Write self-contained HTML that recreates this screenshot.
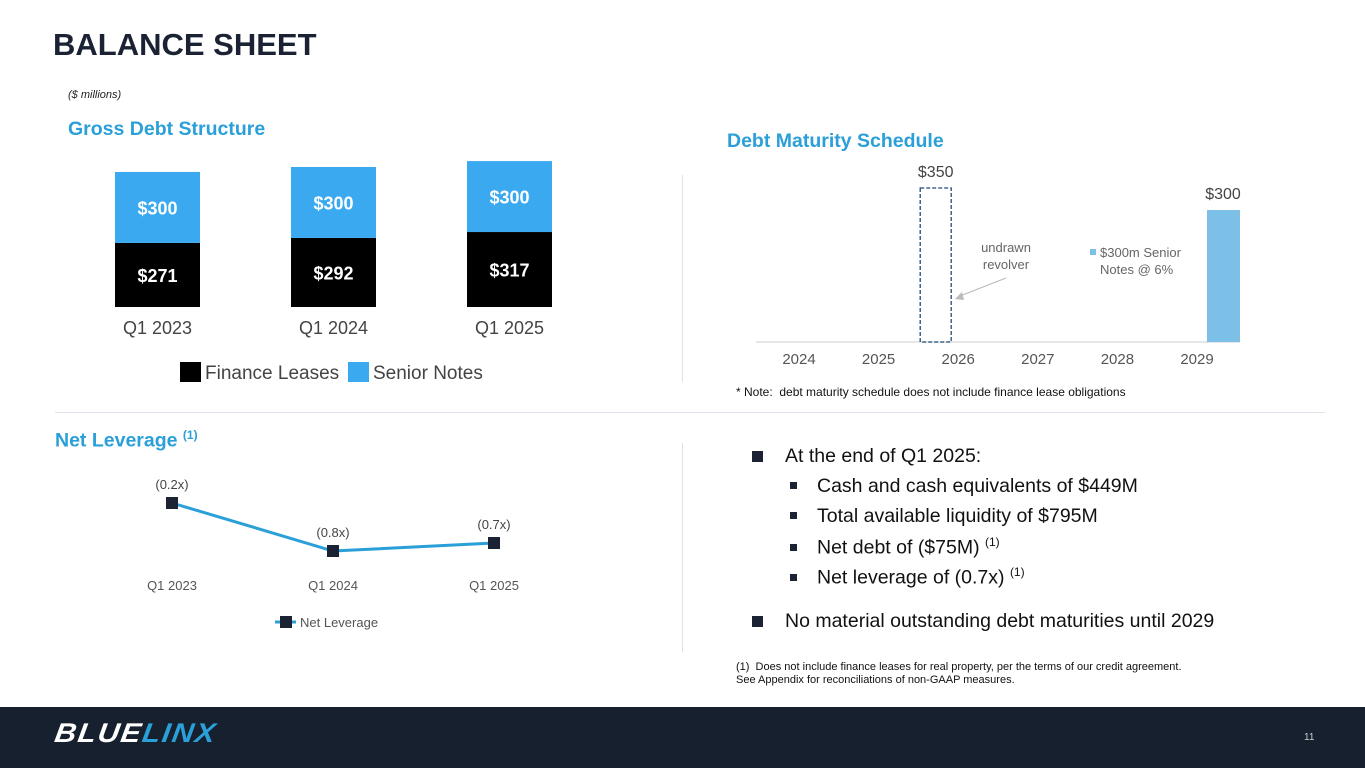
<!DOCTYPE html>
<html><head><meta charset="utf-8"><style>
body{margin:0;width:1365px;height:768px;position:relative;overflow:hidden;background:#fff;font-family:"Liberation Sans",Arial,sans-serif}
.a{position:absolute;white-space:nowrap}
.h{color:#2a9fd8;font-weight:bold;font-size:19.5px}
.b{font-size:19.5px;color:#111}
</style></head><body>
<div class="a" style="left:53px;top:27px;font-size:31px;font-weight:bold;color:#1a2233">BALANCE SHEET</div>
<div class="a" style="left:68px;top:89px;font-size:11px;font-style:italic;color:#222">($ millions)</div>
<div class="a h" style="left:68px;top:118px">Gross Debt Structure</div>
<div class="a h" style="left:727px;top:130px">Debt Maturity Schedule</div>
<div class="a h" style="left:55px;top:428px">Net Leverage <sup style="font-size:12px">(1)</sup></div>
<div class="a" style="left:55px;top:412px;width:1270px;height:1px;background:#dde3ea"></div>
<div class="a" style="left:682px;top:175px;width:1px;height:207px;background:#dde3ea"></div>
<div class="a" style="left:682px;top:443px;width:1px;height:209px;background:#dde3ea"></div>
<svg class="a" style="left:0;top:0" width="1365" height="707" id="svg">
<g id="g1"></g><g id="g2"></g><g id="g3"></g>
</svg>
<div class="a" style="left:736px;top:385px;font-size:12px;color:#111">* Note:&nbsp; debt maturity schedule does not include finance lease obligations</div>
<div>
<div class="a b" style="left:752px;top:445px"><span style="display:inline-block;width:11px;height:11px;background:#1a2233;margin-right:22px"></span>At the end of Q1 2025:</div>
<div class="a b" style="left:790px;top:475px"><span style="display:inline-block;width:7px;height:7px;background:#1a2233;margin-right:20px;vertical-align:3px"></span>Cash and cash equivalents of $449M</div>
<div class="a b" style="left:790px;top:505px"><span style="display:inline-block;width:7px;height:7px;background:#1a2233;margin-right:20px;vertical-align:3px"></span>Total available liquidity of $795M</div>
<div class="a b" style="left:790px;top:535px"><span style="display:inline-block;width:7px;height:7px;background:#1a2233;margin-right:20px;vertical-align:3px"></span>Net debt of ($75M) <sup style="font-size:12px">(1)</sup></div>
<div class="a b" style="left:790px;top:565px"><span style="display:inline-block;width:7px;height:7px;background:#1a2233;margin-right:20px;vertical-align:3px"></span>Net leverage of (0.7x) <sup style="font-size:12px">(1)</sup></div>
<div class="a b" style="left:752px;top:610px"><span style="display:inline-block;width:11px;height:11px;background:#1a2233;margin-right:22px"></span>No material outstanding debt maturities until 2029</div>
</div>
<div class="a" style="left:736px;top:661px;font-size:11px;line-height:13px;color:#111">(1)&nbsp; Does not include finance leases for real property, per the terms of our credit agreement.<br>See Appendix for reconciliations of non-GAAP measures.</div>
<div class="a" style="left:0;top:707px;width:1365px;height:61px;background:#16202e"></div>
<div class="a" style="left:55px;top:718px;font-size:27px;font-weight:bold;font-style:italic;letter-spacing:1.5px;color:#fff;transform:scaleX(1.1) skewX(-8deg);transform-origin:left center">BLUE<span style="color:#2a9fd8">LINX</span></div>
<div class="a" style="left:1304px;top:732px;font-size:10px;color:#ccc">11</div>
<script>
const NS="http://www.w3.org/2000/svg";
function mk(p,t,a,txt){const e=document.createElementNS(NS,t);for(const k in a)e.setAttribute(k,a[k]);if(txt!==undefined)e.textContent=txt;p.appendChild(e);return e;}
// Gross debt
const gdCats=["Q1 2023","Q1 2024","Q1 2025"];
const gdLeases=[271,292,317];
const gdNotes=[300,300,300];
// Maturity
const mYears=["2024","2025","2026","2027","2028","2029"];
const mNotes=[0,0,0,0,0,300];
const revolver=350;
// Net leverage
const nlCats=["Q1 2023","Q1 2024","Q1 2025"];
const nlVals=[-0.2,-0.8,-0.7];
const nlLabels=["(0.2x)","(0.8x)","(0.7x)"];

const g1=document.getElementById('g1');
const gx=i=>157.5+i*176, gy=v=>307-v*0.2365;
gdCats.forEach((c,i)=>{
 let r=mk(g1,'rect',{x:gx(i)-42.5,y:gy(gdLeases[i]),width:85,height:307-gy(gdLeases[i]),fill:'#000'});
 
 let r2=mk(g1,'rect',{x:gx(i)-42.5,y:gy(gdLeases[i]+gdNotes[i]),width:85,height:gy(gdLeases[i])-gy(gdLeases[i]+gdNotes[i]),fill:'#3aa9f0'});
 
 mk(g1,'text',{x:gx(i),y:(307+gy(gdLeases[i]))/2+7,'text-anchor':'middle','font-size':18,'font-weight':'bold',fill:'#fff'},'$'+gdLeases[i]);
 mk(g1,'text',{x:gx(i),y:(gy(gdLeases[i])+gy(gdLeases[i]+gdNotes[i]))/2+7,'text-anchor':'middle','font-size':18,'font-weight':'bold',fill:'#fff'},'$'+gdNotes[i]);
 let t=mk(g1,'text',{x:gx(i),y:334,'text-anchor':'middle','font-size':18,fill:'#444'},c);
 
});
mk(g1,'rect',{x:180,y:362,width:21,height:20,fill:'#000'});
mk(g1,'text',{x:205,y:379,'font-size':19,fill:'#444'},'Finance Leases');
mk(g1,'rect',{x:348,y:362,width:21,height:20,fill:'#3aa9f0'});
mk(g1,'text',{x:373,y:379,'font-size':19,fill:'#444'},'Senior Notes');

const g2=document.getElementById('g2');
const mx=i=>799+i*79.6, my=v=>342-v*0.44;
mk(g2,'line',{x1:756,x2:1240,y1:342,y2:342,stroke:'#ddd','stroke-width':1.5});
mYears.forEach((y,i)=>{
 mk(g2,'text',{x:mx(i),y:364,'text-anchor':'middle','font-size':15,fill:'#555'},y);
 if(mNotes[i]>0){
  let r=mk(g2,'rect',{x:mx(i)+10,y:my(mNotes[i]),width:33,height:342-my(mNotes[i]),fill:'#7cc0e8'});
  
  mk(g2,'text',{x:mx(i)+26,y:my(mNotes[i])-11,'text-anchor':'middle','font-size':16,fill:'#444'},'$'+mNotes[i]);
 }
});
const rx=mx(2)-38;
let rv=mk(g2,'rect',{x:rx,y:my(revolver),width:31,height:342-my(revolver),fill:'none',stroke:'#1f4e79','stroke-width':1.3,'stroke-dasharray':'4,2'});

mk(g2,'text',{x:rx+15.5,y:my(revolver)-11,'text-anchor':'middle','font-size':16,fill:'#444'},'$'+revolver);
mk(g2,'text',{x:1006,y:252,'text-anchor':'middle','font-size':13,fill:'#666'},'undrawn');
mk(g2,'text',{x:1006,y:269,'text-anchor':'middle','font-size':13,fill:'#666'},'revolver');
mk(g2,'line',{x1:1006,x2:960,y1:278,y2:296,stroke:'#bbb','stroke-width':1.2});
mk(g2,'path',{d:'M955 299 L962 292 L964 300 Z',fill:'#bbb'});
mk(g2,'rect',{x:1090,y:249,width:6,height:6,fill:'#7cc0e8'});
mk(g2,'text',{x:1100,y:257,'font-size':13,fill:'#666'},'$300m Senior');
mk(g2,'text',{x:1100,y:274,'font-size':13,fill:'#666'},'Notes @ 6%');

const g3=document.getElementById('g3');
const nx=i=>172+i*161, ny=v=>487-v*80;
mk(g3,'polyline',{points:nlVals.map((v,i)=>nx(i)+','+ny(v)).join(' '),fill:'none',stroke:'#2a9fd8','stroke-width':3});
nlVals.forEach((v,i)=>{
 let p=mk(g3,'rect',{x:nx(i)-6,y:ny(v)-6,width:12,height:12,fill:'#1a2233'});
 
 mk(g3,'text',{x:nx(i),y:ny(v)-14,'text-anchor':'middle','font-size':13,fill:'#444'},nlLabels[i]);
 mk(g3,'text',{x:nx(i),y:590,'text-anchor':'middle','font-size':13,fill:'#555'},nlCats[i]);
});
mk(g3,'line',{x1:275,x2:296,y1:622,y2:622,stroke:'#2a9fd8','stroke-width':3});
mk(g3,'rect',{x:280,y:616,width:12,height:12,fill:'#1a2233'});
mk(g3,'text',{x:300,y:627,'font-size':13,fill:'#555'},'Net Leverage');
</script>
</body></html>
